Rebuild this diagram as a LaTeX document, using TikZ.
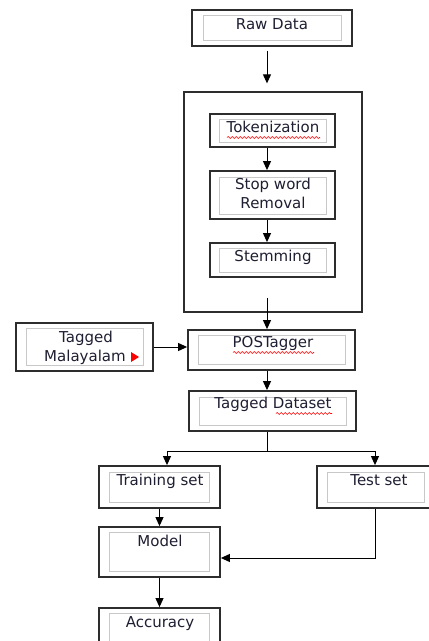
\documentclass[tikz,border=0pt]{standalone}
\usepackage{fontspec}
\setmainfont{DejaVu Sans}
\usetikzlibrary{arrows.meta,decorations.pathmorphing}
\definecolor{txt}{RGB}{30,30,50}
\definecolor{ink}{RGB}{45,45,45}
\definecolor{inner}{RGB}{200,200,200}
\begin{document}
\begin{tikzpicture}[x=1pt,y=-1pt,
  obox/.style={draw=ink, line width=1.8pt, inner sep=0pt, rectangle},
  bigbox/.style={draw=ink, line width=1.3pt, inner sep=0pt, rectangle},
  ibox/.style={draw=inner, line width=1pt},
  lbl/.style={anchor=base, inner sep=0pt, text=txt, font=\fontsize{15}{18}\selectfont},
  arr/.style={draw=black, line width=1pt, -{Triangle[length=9pt,width=8pt]}},
  ln/.style={draw=black, line width=1pt},
  squig/.style={draw=red, line width=0.6pt, decorate, decoration={snake, amplitude=1pt, segment length=4pt}}]
\useasboundingbox (0,0) rectangle (429,641);
\clip (0,0) rectangle (429,641);
\coordinate (sp) at (267,0);
% boxes
\node[obox, minimum width=160pt, minimum height=36pt] (raw) at (272,28) {};
\draw[ibox] (203,15) rectangle (341,40);
\node[lbl] (rawt) at (272,29.5) {Raw Data};

\node[bigbox, minimum width=178pt, minimum height=220pt] (big) at (273,202) {};

\node[obox, minimum width=125pt, minimum height=33pt] (tok) at (272.5,130.5) {};
\draw[ibox] (219,119) rectangle (326,142);
\node[lbl] (tokt) at (273,132.5) {Tokenization};
\draw[squig] (227,137.5) -- (320,137.5);

\node[obox, minimum width=125pt, minimum height=48pt] (stop) at (272.5,195) {};
\draw[ibox] (219,177) rectangle (326,214);
\node[lbl] (stopt1) at (273,189.5) {Stop word};
\node[lbl] (stopt2) at (273,208.5) {Removal};

\node[obox, minimum width=125pt, minimum height=34pt] (stem) at (272.5,260) {};
\draw[ibox] (219,248) rectangle (326,272);
\node[lbl] (stemt) at (273,261.5) {Stemming};

\node[obox, minimum width=137pt, minimum height=48pt] (tm) at (84.5,347) {};
\draw[ibox] (26,328) rectangle (143,365);
\node[lbl] (tmt1) at (86,342.5) {Tagged};
\node[lbl] (tmt2) at (85,361.5) {Malayalam};
\fill[red] (131,352) -- (139,357) -- (131,362) -- cycle;

\node[obox, minimum width=167pt, minimum height=40pt] (pos) at (271.5,350) {};
\draw[ibox] (198,335) rectangle (345,364);
\node[lbl] (post) at (273,347.5) {POSTagger};
\draw[squig] (233,352.5) -- (314,352.5);

\node[obox, minimum width=167pt, minimum height=40pt] (td) at (272.5,411) {};
\draw[ibox] (199,397) rectangle (346,425);
\node[lbl] (tdt) at (273,408.5) {Tagged Dataset};
\draw[squig] (276,413.5) -- (332,413.5);

\node[obox, minimum width=121pt, minimum height=42pt] (train) at (159.5,487) {};
\draw[ibox] (109,472) rectangle (209,502);
\node[lbl] (traint) at (160,485) {Training set};

\node[obox, minimum width=118pt, minimum height=42pt] (test) at (376,487) {};
\draw[ibox] (327,472) rectangle (424,502);
\node[lbl] (testt) at (379,485) {Test set};

\node[obox, minimum width=121pt, minimum height=50pt] (model) at (159.5,552) {};
\draw[ibox] (109,532) rectangle (209,571);
\node[lbl] (modelt) at (160,546) {Model};

\node[obox, minimum width=121pt, minimum height=52pt] (acc) at (159.5,634) {};
\draw[ibox] (109,613) rectangle (209,655);
\node[lbl] (acct) at (160,627.5) {Accuracy};

% connectors
\coordinate (j) at (267,451);
\coordinate (jl) at (167,451);
\coordinate (jr) at (375,451);
\draw[arr, shorten <=4pt, shorten >=8pt] (raw.south -| sp) -- (big.north -| sp);
\draw[arr] (tok.south -| sp) -- (stop.north -| sp);
\draw[arr] (stop.south -| sp) -- (stem.north -| sp);
\draw[arr, shorten <=20pt] (stem.south -| sp) -- (pos.north -| sp);
\draw[arr] (tm.east) -- (tm.east -| pos.west);
\draw[arr] (pos.south -| sp) -- (td.north -| sp);
\draw[ln] (td.south -| sp) -- (j);
\draw[arr] (j) -- (jl) -- (train.north -| jl);
\draw[arr] (j) -- (jr) -- (test.north -| jr);
\draw[arr] (train.south) -- (model.north);
\draw[arr] (test.south -| jr) |- ([yshift=-6pt]model.east);
\draw[arr] (model.south) -- (acc.north);
\end{tikzpicture}
\end{document}
